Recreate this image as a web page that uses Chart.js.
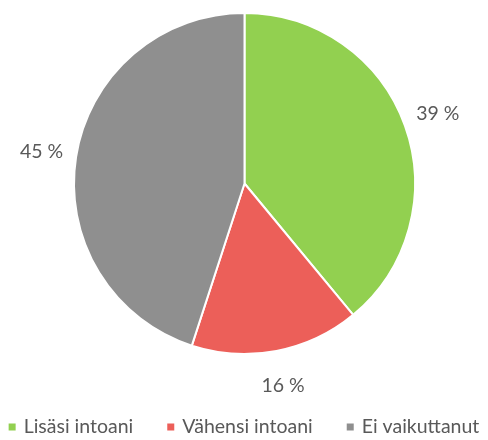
<!DOCTYPE html>
<html>
<head>
<meta charset="utf-8">
<script src="https://cdn.jsdelivr.net/npm/chart.js@4"></script>
<style>
  html, body { margin: 0; padding: 0; background: #fff; }
  #wrap { width: 488px; height: 440px; }
</style>
</head>
<body>
<div id="wrap"><canvas id="chart" width="488" height="440"></canvas></div>
<script>
const categories = ["Lisäsi intoani", "Vähensi intoani", "Ei vaikuttanut"];
const values = [39, 16, 45];
const colors = ["#92D050", "#EC5F59", "#8F8F8F"];

const FONT = "Lato, 'Liberation Sans', sans-serif";

// percentage labels outside the slices
const outsideLabels = {
    id: "outsideLabels",
    afterDatasetsDraw(chart) {
        const ctx = chart.ctx;
        const meta = chart.getDatasetMeta(0);
        ctx.save();
        ctx.font = "19.5px " + FONT;
        ctx.fillStyle = "#595959";
        ctx.textAlign = "center";
        ctx.textBaseline = "middle";
        meta.data.forEach((arc, i) => {
            const mid = (arc.startAngle + arc.endAngle) / 2;
            const r = arc.outerRadius + 35;
            ctx.fillText(values[i] + " %", arc.x + Math.cos(mid) * r, arc.y + Math.sin(mid) * r);
        });
        ctx.restore();
    }
};

// legend row at the bottom, square markers
const bottomLegend = {
    id: "bottomLegend",
    afterDraw(chart) {
        const ctx = chart.ctx;
        ctx.save();
        ctx.font = "19.5px " + FONT;
        ctx.textBaseline = "middle";
        const box = 7, boxGap = 8, itemGap = 34;
        const widths = categories.map(c => ctx.measureText(c).width);
        let total = widths.reduce((a, b) => a + b, 0) + categories.length * (box + boxGap) + itemGap * (categories.length - 1);
        let x = (chart.width - total) / 2;
        const y = 427;
        categories.forEach((c, i) => {
            ctx.fillStyle = colors[i];
            ctx.fillRect(x, y - box / 2, box, box);
            x += box + boxGap;
            ctx.fillStyle = "#595959";
            ctx.fillText(c, x, y);
            x += widths[i] + itemGap;
        });
        ctx.restore();
    }
};

new Chart(document.getElementById("chart"), {
    type: "pie",
    data: {
        labels: categories,
        datasets: [{
            data: values,
            backgroundColor: colors,
            borderColor: "#fff",
            borderWidth: 2
        }]
    },
    options: {
        responsive: false,
        animation: false,
        layout: { padding: { top: 12, left: 1, right: 0, bottom: 85 } },
        plugins: {
            tooltip: { enabled: false },
            legend: { display: false }
        }
    },
    plugins: [outsideLabels, bottomLegend]
});
</script>
</body>
</html>
